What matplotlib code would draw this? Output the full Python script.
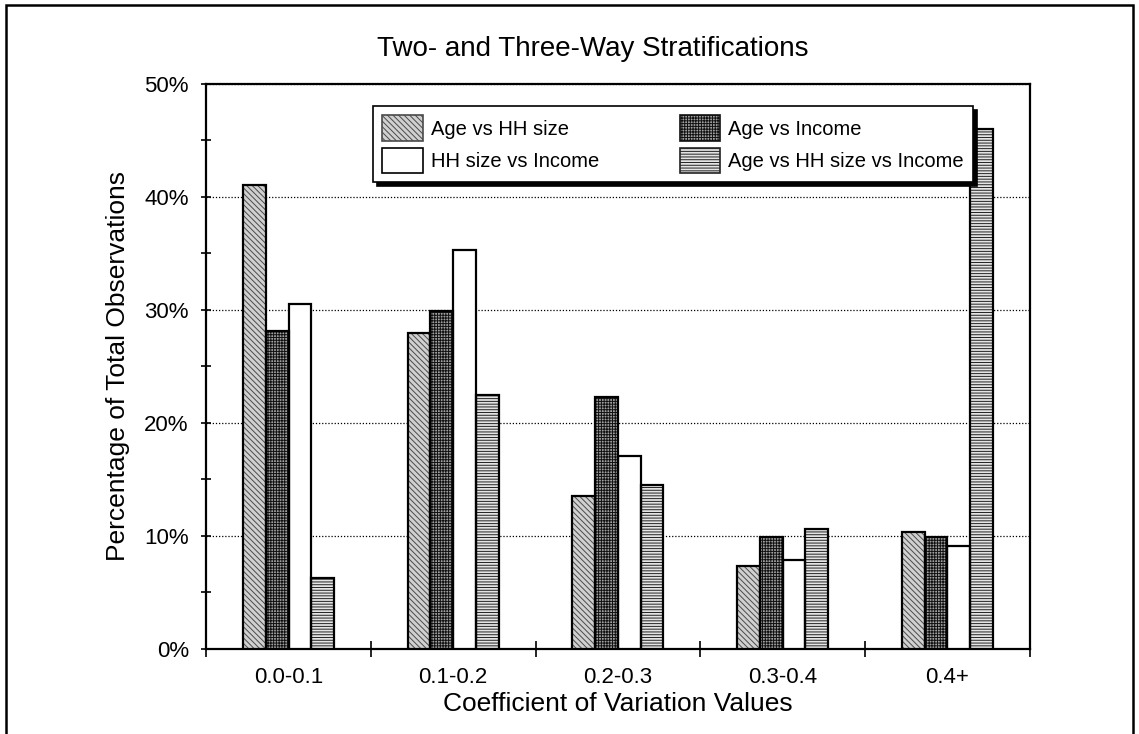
import numpy as np
import matplotlib.pyplot as plt
from matplotlib.ticker import MultipleLocator, PercentFormatter
from matplotlib.patches import Rectangle

plt.rcParams['font.family'] = ['Liberation Sans', 'DejaVu Sans']
plt.rcParams['hatch.linewidth'] = 0.7

categories = ['0.0-0.1', '0.1-0.2', '0.2-0.3', '0.3-0.4', '0.4+']
age_hh = [41.0, 27.9, 13.5, 7.3, 10.3]
age_income = [28.1, 29.9, 22.3, 9.9, 9.9]
hh_income = [30.5, 35.3, 17.1, 7.9, 9.1]
age_hh_income = [6.3, 22.5, 14.5, 10.6, 46.0]

series = [
    ('Age vs HH size', age_hh, '#d0d0d0', '\\\\\\\\\\\\', '#4a4a4a'),
    ('Age vs Income', age_income, '#a0a0a0', '++++++', '#111111'),
    ('HH size vs Income', hh_income, 'white', None, 'black'),
    ('Age vs HH size vs Income', age_hh_income, '#e4e4e4', '------', '#222222'),
]

fig = plt.figure(figsize=(11.39, 7.34), dpi=100)
ax = fig.add_axes([0.181, 0.116, 0.723, 0.77])

x = np.arange(len(categories))
w = 0.138
handles = []
for i, (name, vals, fc, hatch, hc) in enumerate(series):
    pos = x + (i - 1.5) * w
    ax.bar(pos, vals, w, facecolor=fc, edgecolor=hc, hatch=hatch,
           linewidth=0, zorder=3)
    # black outline on top of the hatch
    ax.bar(pos, vals, w, facecolor='none', edgecolor='black', linewidth=1.6, zorder=4)
    handles.append(Rectangle((0, 0), 1, 1, facecolor=fc, edgecolor=hc, hatch=hatch,
                             linewidth=1.2))

ax.set_xlim(-0.5, len(categories) - 0.5)
ax.set_ylim(0, 50)
ax.yaxis.set_major_locator(MultipleLocator(10))
ax.yaxis.set_minor_locator(MultipleLocator(5))
ax.yaxis.set_major_formatter(PercentFormatter(decimals=0))
ax.set_xticks(x)
ax.set_xticklabels(categories, fontsize=16)
ax.set_xticks(np.arange(len(categories) + 1) - 0.5, minor=True)
ax.tick_params(axis='x', which='major', length=0, pad=13)
ax.tick_params(axis='x', which='minor', length=12, direction='inout', width=1.2)
ax.tick_params(axis='y', which='both', length=7, direction='inout', width=1.2,
               labelsize=16, pad=9)
ax.grid(axis='y', which='major', linestyle=(0, (1, 1.5)), color='black',
        linewidth=0.9, zorder=0)
for s in ax.spines.values():
    s.set_linewidth(1.6)

ax.set_xlabel('Coefficient of Variation Values', fontsize=19, labelpad=3)
ax.set_ylabel('Percentage of Total Observations', fontsize=19, labelpad=10)
fig.text(0.52, 0.933, 'Two- and Three-Way Stratifications', ha='center',
         va='center', fontsize=20)

order = [0, 2, 1, 3]
leg = ax.legend([handles[k] for k in order], [series[k][0] for k in order],
                ncol=2, loc='upper left', bbox_to_anchor=(0.203, 0.96),
                fontsize=14.5, frameon=True, fancybox=False,
                shadow={'color': 'black', 'alpha': 1, 'ox': 3, 'oy': -3},
                handlelength=2.0, handleheight=1.55, columnspacing=4.0,
                borderpad=0.45, labelspacing=0.35, handletextpad=0.4,
                borderaxespad=0)
leg.get_frame().set_edgecolor('black')
leg.get_frame().set_linewidth(1.2)
leg.set_zorder(10)

# outer frame of the figure
fig.add_artist(Rectangle((0.005, -0.02), 0.99, 1.013, transform=fig.transFigure,
                         fill=False, edgecolor='black', linewidth=1.8))

fig.savefig('out.png', dpi=100)
